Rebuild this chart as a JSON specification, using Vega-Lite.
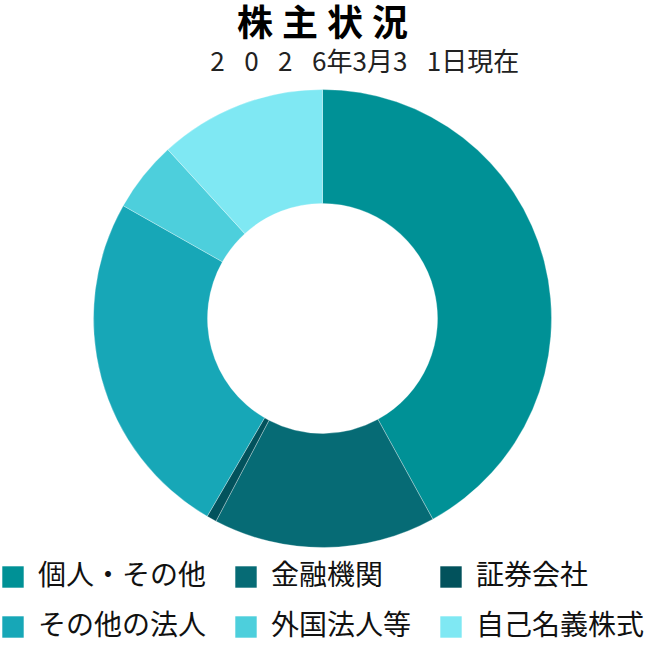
{
  "$schema": "https://vega.github.io/schema/vega-lite/v6.json",
  "width": 459,
  "height": 459,
  "autosize": {"type": "none"},
  "padding": {"left": 93, "top": 89, "right": 94, "bottom": 100},
  "background": "white",
  "title": {
    "text": "株\u2005主\u2005状\u2005況",
    "subtitle": "\u2060\u3000\u3000\u3000\u20052\u2002\u20050\u2002\u20052\u2002\u20056年3月3\u2002\u20051日現在",
    "anchor": "middle",
    "font": "Noto Sans CJK JP",
    "fontSize": 36,
    "fontWeight": "bold",
    "color": "#000000",
    "subtitleFont": "Noto Sans CJK JP",
    "subtitleFontSize": 26,
    "subtitleColor": "#222222",
    "subtitlePadding": 6,
    "offset": 11
  },
  "data": {
    "values": [
      {"category": "個人・その他", "share": 42.0, "order": 1},
      {"category": "金融機関", "share": 15.7, "order": 2},
      {"category": "証券会社", "share": 0.7, "order": 3},
      {"category": "その他の法人", "share": 24.8, "order": 4},
      {"category": "外国法人等", "share": 5.0, "order": 5},
      {"category": "自己名義株式", "share": 11.8, "order": 6}
    ]
  },
  "mark": {
    "type": "arc",
    "outerRadius": 229,
    "innerRadius": 115,
    "stroke": "#ffffff",
    "strokeWidth": 0.6,
    "strokeOpacity": 0.5
  },
  "encoding": {
    "theta": {"field": "share", "type": "quantitative", "stack": true},
    "order": {"field": "order", "type": "quantitative"},
    "color": {
      "field": "category",
      "type": "nominal",
      "scale": {
        "domain": ["個人・その他", "金融機関", "証券会社", "その他の法人", "外国法人等", "自己名義株式"],
        "range": ["#009196", "#066b75", "#02525c", "#17a7b7", "#4dcfdc", "#7fe8f3"]
      },
      "legend": {
        "title": null,
        "orient": "none",
        "legendX": -94,
        "legendY": 474,
        "direction": "horizontal",
        "columns": 3,
        "columnPadding": 25,
        "rowPadding": 22,
        "symbolType": "square",
        "symbolSize": 484,
        "symbolStrokeColor": "#ffffff",
        "symbolStrokeWidth": 0.6,
        "labelFont": "Noto Sans CJK JP",
        "labelFontSize": 28,
        "labelColor": "#111111",
        "labelOffset": 11,
        "labelLimit": 300
      }
    },
    "tooltip": [
      {"field": "category", "title": "区分"},
      {"field": "share", "title": "比率(%)"}
    ]
  }
}
